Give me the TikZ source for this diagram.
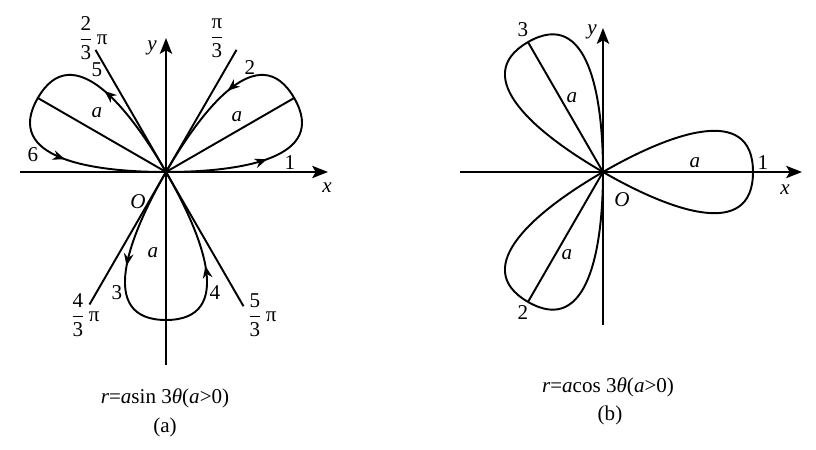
\documentclass[tikz,border=0pt]{standalone}
\usepackage{amsmath}
\usepackage{fontspec}
\setmainfont{Liberation Serif}
\usetikzlibrary{arrows.meta,decorations.markings}

\tikzset{
  axis/.style={line width=1.1pt,-{Stealth[length=9pt,width=7pt,inset=2pt]}},
  curve/.style={line width=1.1pt},
  flow/.style={postaction={decorate},decoration={markings,
      mark=at position 0.28 with {\arrow{Stealth[length=7pt,width=5.5pt]}},
      mark=at position 0.72 with {\arrow{Stealth[length=7pt,width=5.5pt]}}}},
  lbl/.style={inner sep=0pt,font=\fontsize{12}{14}\selectfont},
}

\begin{document}
\begin{tikzpicture}[x=0.02cm,y=0.02cm,line join=round]
  \useasboundingbox (0,0) rectangle (816,450);
  \pgfmathsetmacro{\a}{148}
  \pgfmathsetmacro{\b}{150}
  % (a) r = a sin 3theta
  \begin{scope}[shift={(166,278)}]
    \coordinate (Oa) at (0,0);
    \coordinate (xa0) at (-146,0);
    \coordinate (xa1) at (162,0);
    \coordinate (ya0) at (0,-193);
    \coordinate (ya1) at (0,134);
    \coordinate (la60) at (60:141);
    \coordinate (la240) at (240:153);
    \coordinate (la120) at (120:141);
    \coordinate (la300) at (300:155);
    \draw[axis] (xa0) -- (xa1);
    \draw[axis] (ya0) -- (ya1);
    \draw[curve] (la240) -- (la60);
    \draw[curve] (la300) -- (la120);
    \foreach \ang in {30,150,270}{
      \coordinate (tipa\ang) at (\ang:\a);
      \draw[curve] (Oa) -- (tipa\ang);
      \draw[curve,flow] (Oa) .. controls +(\ang-30:74) and +(\ang-90:70) .. (tipa\ang)
        .. controls +(\ang+90:70) and +(\ang+30:74) .. (Oa);
    }
    \node[lbl] (ya) at (-14,124) {\textit{y}};
    \node[lbl] (xa) at (161,-16) {\textit{x}};
    \node[lbl] (oa) at (-28,-30) {\textit{O}};
    \node[lbl] (pa1) at (-73,134) {$\dfrac{\text{2}}{\text{3}}$\,π};
    \node[lbl] (pa2) at (51,134) {$\dfrac{\text{π}}{\text{3}}$};
    \node[lbl] (pa3) at (-81,-143) {$\dfrac{\text{4}}{\text{3}}$\,π};
    \node[lbl] (pa4) at (96,-143) {$\dfrac{\text{5}}{\text{3}}$\,π};
    \node[lbl] (na1) at (124,9) {1};
    \node[lbl] (na2) at (84,104) {2};
    \node[lbl] (na3) at (-49,-121) {3};
    \node[lbl] (na4) at (49,-121) {4};
    \node[lbl] (na5) at (-69,102) {5};
    \node[lbl] (na6) at (-133,17) {6};
    \node[lbl] (aa1) at (71,55) {\textit{a}};
    \node[lbl] (aa2) at (-69,59) {\textit{a}};
    \node[lbl] (aa3) at (-13,-81) {\textit{a}};
  \end{scope}
  \node[lbl] (capa) at (165,52) {\textit{r}=\textit{a}sin 3\textit{θ}(\textit{a}>0)};
  \node[lbl] (taga) at (165,23) {(a)};
  % (b) r = a cos 3theta
  \begin{scope}[shift={(603,278)}]
    \coordinate (Ob) at (0,0);
    \coordinate (xb0) at (-143,0);
    \coordinate (xb1) at (199,0);
    \coordinate (yb0) at (0,-153);
    \coordinate (yb1) at (0,144);
    \draw[axis] (xb0) -- (xb1);
    \draw[axis] (yb0) -- (yb1);
    \foreach \ang in {0,120,240}{
      \coordinate (tipb\ang) at (\ang:\b);
      \draw[curve] (Ob) -- (tipb\ang);
      \draw[curve] (Ob) .. controls +(\ang-30:75) and +(\ang-90:70) .. (tipb\ang)
        .. controls +(\ang+90:70) and +(\ang+30:75) .. (Ob);
    }
    \node[lbl] (yb) at (-11,140) {\textit{y}};
    \node[lbl] (xb) at (182,-18) {\textit{x}};
    \node[lbl] (ob) at (19,-28) {\textit{O}};
    \node[lbl] (nb1) at (160,9) {1};
    \node[lbl] (nb2) at (-80,-141) {2};
    \node[lbl] (nb3) at (-80,142) {3};
    \node[lbl] (ab1) at (92,9) {\textit{a}};
    \node[lbl] (ab2) at (-36,-83) {\textit{a}};
    \node[lbl] (ab3) at (-31,74) {\textit{a}};
  \end{scope}
  \node[lbl] (capb) at (608,63) {\textit{r}=\textit{a}cos 3\textit{θ}(\textit{a}>0)};
  \node[lbl] (tagb) at (610,35) {(b)};
\end{tikzpicture}
\end{document}
